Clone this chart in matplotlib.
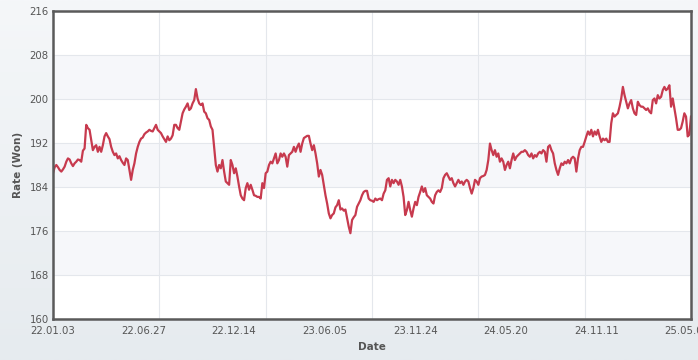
import numpy as np
import matplotlib
matplotlib.use("Agg")
import matplotlib.pyplot as plt
from matplotlib.colors import LinearSegmentedColormap

# --- data: daily rate (Won) ---
rate_2022a = [186.5, 187.6, 188.0, 187.6, 187.1, 186.8, 187.2, 187.7, 188.6, 189.2,
              189.0, 188.3, 187.8, 188.3, 188.6, 189.0, 188.9, 188.6, 190.6, 191.0,
              195.3, 194.7, 194.4, 192.5, 190.7, 191.3, 191.6, 190.4, 191.3, 190.4,
              191.6, 193.2, 193.8, 193.2, 192.7, 191.3, 190.4, 189.8, 190.1, 189.2,
              189.6, 188.9, 188.4, 188.0, 189.2, 188.9, 187.1, 185.3, 187.1, 188.3,
              190.1, 191.3, 192.2, 192.8, 193.0, 193.6, 193.9, 194.1, 194.4, 194.2,
              194.1, 194.7, 195.3]
rate_2022b = [194.4, 194.1, 193.8, 193.2, 192.7, 192.2, 193.2, 192.5, 192.8, 193.4,
              195.3, 195.3, 194.7, 194.4, 195.9, 197.4, 198.1, 198.6, 199.2, 198.0,
              198.3, 199.2, 199.8, 201.8, 200.1, 199.2, 198.9, 199.2, 197.7, 197.4,
              196.5, 196.2, 195.0, 194.4, 191.3, 188.0, 186.8, 188.0, 187.4, 188.9,
              186.8, 185.0, 184.7, 184.4, 188.9, 188.0, 186.5, 187.4, 185.9, 184.1,
              182.5, 181.9, 181.6, 183.8, 184.7, 183.5, 184.4, 183.5, 182.5, 182.4,
              182.2, 182.2, 181.9, 184.7]
rate_2023a = [183.8, 186.5, 186.8, 188.0, 188.6, 188.3, 189.2, 190.1, 188.3, 188.9,
              190.1, 189.5, 190.1, 189.5, 187.7, 189.8, 190.1, 190.4, 191.3, 190.4,
              191.3, 191.9, 190.4, 191.9, 192.9, 193.1, 193.3, 193.3, 191.9, 190.7,
              191.6, 190.1, 188.3, 185.9, 187.1, 186.2, 184.4, 182.5, 181.0, 179.2,
              178.3, 178.9, 179.2, 180.3, 180.7, 181.6, 179.9, 180.1, 179.7, 179.9,
              178.3, 176.8, 175.6, 178.0, 178.5, 178.9, 180.4, 181.0, 181.6, 182.5,
              183.1, 183.3, 183.3, 181.9]
rate_2023b = [181.6, 181.5, 181.3, 181.9, 181.6, 181.8, 181.9, 181.6, 182.8, 183.4,
              185.3, 185.6, 184.1, 185.3, 184.7, 185.3, 185.0, 184.4, 185.3, 184.1,
              182.2, 178.9, 179.8, 181.3, 179.8, 178.6, 180.1, 181.3, 180.7, 182.2,
              183.1, 184.1, 183.1, 183.8, 182.5, 182.2, 181.9, 181.3, 181.0, 182.5,
              183.1, 183.4, 183.1, 183.8, 185.6, 186.2, 186.5, 185.9, 185.3, 185.6,
              184.7, 184.1, 184.7, 185.3, 184.7, 185.0, 184.4, 185.0, 185.3, 185.0,
              183.8, 182.8, 183.8, 185.3]
rate_2024a = [185.0, 184.4, 185.6, 185.9, 186.0, 186.2, 187.1, 188.9, 191.9, 190.7,
              189.8, 190.7, 189.5, 190.1, 188.6, 189.2, 188.6, 187.1, 188.0, 188.6,
              187.4, 188.9, 190.1, 188.9, 189.5, 189.8, 190.1, 190.4, 190.4, 190.7,
              190.4, 189.8, 189.5, 190.1, 189.2, 189.8, 189.5, 190.1, 190.4, 190.1,
              190.7, 190.4, 188.6, 191.3, 191.6, 190.7, 190.1, 188.3, 187.1, 186.2,
              187.4, 188.3, 188.0, 188.6, 188.3, 188.9, 188.3, 189.2, 189.5, 189.2,
              186.8, 189.2, 190.7, 191.3]
rate_2024b = [191.3, 192.2, 193.2, 194.1, 193.5, 194.4, 193.2, 194.1, 193.5, 194.4,
              193.2, 192.2, 192.8, 192.5, 192.8, 192.2, 192.2, 195.6, 197.4, 196.8,
              197.1, 197.4, 198.6, 200.1, 202.2, 200.7, 199.5, 198.3, 199.2, 199.8,
              198.3, 197.4, 197.1, 199.5, 198.9, 198.6, 198.6, 198.3, 198.0, 198.3,
              197.7, 197.4, 199.8, 200.1, 199.2, 200.7, 200.1, 200.4, 201.6, 202.2,
              201.6, 201.9, 202.5, 198.6, 200.1, 198.3, 196.5, 194.4, 194.4, 194.7,
              195.9, 197.4, 196.8, 193.2, 193.5, 196.8]

date_labels = ["22.01.03", "22.06.27", "22.12.14", "23.06.05",
               "23.11.24", "24.05.20", "24.11.11", "25.05.07"]
y_ticks = [160, 168, 176, 184, 192, 200, 208, 216]

rate = np.array(rate_2022a + rate_2022b + rate_2023a + rate_2023b + rate_2024a + rate_2024b)
idx = np.arange(len(rate))
last = len(rate) - 1

# --- figure ---
fig = plt.figure(figsize=(6.98, 3.60), dpi=100)

# soft vertical gradient behind everything
bg = fig.add_axes([0, 0, 1, 1], zorder=-10)
cmap = LinearSegmentedColormap.from_list("bg", ["#f5f7f9", "#e6ebef"])
bg.imshow(np.linspace(0, 1, 256).reshape(-1, 1), aspect="auto", cmap=cmap,
          extent=[0, 1, 0, 1])
bg.axis("off")

ax = fig.add_axes([53 / 698, 41 / 360, 638 / 698, 308 / 360])
ax.set_facecolor("white")

# alternating bands
for lo in (168, 184, 200):
    ax.axhspan(lo, lo + 8, color="#f6f7fa", zorder=0, lw=0)

ax.plot(idx, rate, color="#c73a4e", lw=1.6, zorder=3)

ax.set_ylim(160, 216)
ax.set_xlim(0, last)
ax.set_yticks(y_ticks)
ax.set_yticklabels([str(v) for v in y_ticks])

# labels every ~54.5 points, grid every sixth of the range
ax.set_xticks(np.arange(len(date_labels)) * 54.5)
ax.set_xticklabels(date_labels)
ax.set_xticks(np.linspace(0, last, 7), minor=True)
ax.grid(True, which="minor", axis="x", color="#e4e7ec", lw=0.8, zorder=1)
ax.grid(True, which="major", axis="y", color="#e4e7ec", lw=0.8, zorder=1)

ax.tick_params(axis="both", which="both", length=0, labelsize=7.3,
               labelcolor="#555555")
ax.tick_params(axis="y", pad=3)
ax.tick_params(axis="x", pad=5)

for side, sp in ax.spines.items():
    sp.set_color("#5a5a5a")
    sp.set_linewidth(1.8)
    sp.set_zorder(5)

ax.set_xlabel("Date", fontsize=7.5, fontweight="bold", color="#555555", labelpad=4)
ax.set_ylabel("Rate (Won)", fontsize=7.5, fontweight="bold", color="#555555", labelpad=5)

fig.savefig("out.png", dpi=100)
